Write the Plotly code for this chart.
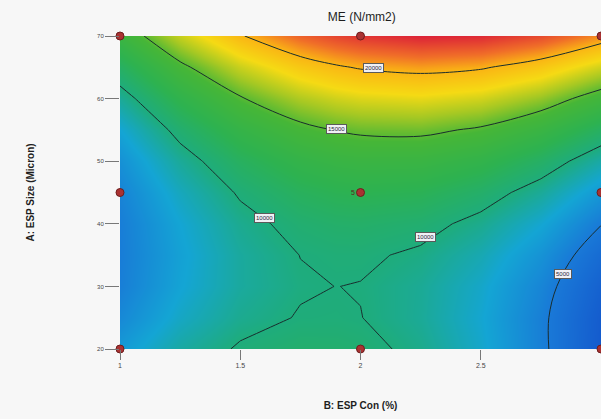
import plotly.graph_objects as go

# Factor levels (grid)
esp_con = [1.0, 1.25, 1.5, 1.75, 1.9, 2.0, 2.25, 2.5, 2.75, 3.0]     # B: ESP Con (%)
esp_size = [20, 25, 30, 35, 40, 45, 50, 55, 60, 65, 70]               # A: ESP Size (Micron)

# ME (N/mm2), rows = ESP size, cols = ESP con
me_values = [
    [6930, 8930, 10200, 10720, 10680, 10500, 9550, 7850, 5420, 2250],
    [5950, 8020, 9430, 10100, 10150, 10030, 9230, 7680, 5400, 2380],
    [5350, 7480, 9040, 9860, 10010, 9950, 9290, 7900, 5760, 2890],
    [5250, 7330, 9050, 10020, 10240, 10250, 9740, 8500, 6510, 3790],
    [5300, 7570, 9430, 10550, 10870, 10930, 10580, 9480, 7650, 5070],
    [5650, 8200, 10210, 11470, 11880, 12010, 11800, 10850, 9170, 6740],
    [6400, 9200, 11360, 12780, 13280, 13460, 13400, 12610, 11070, 8800],
    [7550, 10600, 12910, 14480, 15060, 15310, 15400, 14750, 13360, 11240],
    [9190, 12380, 14840, 16550, 17230, 17530, 17770, 17280, 16040, 14060],
    [11200, 14540, 17150, 19020, 19780, 20150, 20540, 20190, 19100, 17280],
    [13600, 17100, 19850, 21870, 22720, 23150, 23690, 23490, 22550, 20870],
]

# Design points
design_con = [1, 2, 3, 1, 2, 3, 1, 2, 3]
design_size = [20, 20, 20, 45, 45, 45, 70, 70, 70]

curved_levels = [5000, 15000, 20000]
saddle_level = 10000
x_ticks = [1, 1.5, 2, 2.5, 3]
x_ticktext = ["1", "1.5", "2", "2.5", "3"]
y_ticks = [20, 30, 40, 50, 60, 70]

colorscale = [
    [0.00, "rgb(20,90,205)"],
    [0.13, "rgb(25,120,215)"],
    [0.25, "rgb(20,165,212)"],
    [0.36, "rgb(30,172,125)"],
    [0.46, "rgb(45,178,80)"],
    [0.58, "rgb(70,182,55)"],
    [0.66, "rgb(165,200,35)"],
    [0.74, "rgb(245,218,20)"],
    [0.83, "rgb(250,180,20)"],
    [0.90, "rgb(240,110,40)"],
    [1.00, "rgb(220,35,55)"],
]
line_color = "rgb(25,45,45)"

fig = go.Figure()

# colour fill only
fig.add_trace(go.Contour(
    x=esp_con, y=esp_size, z=me_values,
    colorscale=colorscale, zmin=2200, zmax=23700,
    contours=dict(coloring="heatmap", start=30000, end=30000, size=5000),
    line=dict(width=0),
    showscale=False, hoverinfo="skip",
))

# curved contour lines (smoothed)
for lev in curved_levels:
    fig.add_trace(go.Contour(
        x=esp_con, y=esp_size, z=me_values,
        contours=dict(coloring="none", start=lev, end=lev, size=5000),
        line=dict(color=line_color, width=1, smoothing=1.0),
        showscale=False, hoverinfo="skip",
    ))

# straight saddle contour
fig.add_trace(go.Contour(
    x=esp_con, y=esp_size, z=me_values,
    contours=dict(coloring="none", start=saddle_level, end=saddle_level, size=5000),
    line=dict(color=line_color, width=1, smoothing=0),
    showscale=False, hoverinfo="skip",
))

fig.add_trace(go.Scatter(
    x=design_con, y=design_size, mode="markers",
    marker=dict(size=8, color="rgb(170,50,50)",
                line=dict(color="rgb(110,30,30)", width=1)),
    cliponaxis=False, showlegend=False, hoverinfo="skip",
))

# contour labels (boxed)
label_pos = [(2.055, 64.9, "20000"), (1.90, 55.1, "15000"),
             (1.60, 40.9, "10000"), (2.27, 37.9, "10000"), (2.84, 32.0, "5000")]
for bx, ay, txt in label_pos:
    fig.add_annotation(x=bx, y=ay, text=txt, showarrow=False,
                       font=dict(size=6, color="rgb(40,40,60)", family="Arial"),
                       bgcolor="rgb(240,240,245)", bordercolor="rgb(90,90,90)",
                       borderwidth=1, borderpad=1)

fig.add_annotation(x=2, y=45, text="5", showarrow=False, xshift=-8,
                   font=dict(size=7, color="rgb(90,40,30)", family="Arial"))

fig.update_layout(
    width=601, height=419,
    margin=dict(l=120, r=0, t=36, b=70),
    paper_bgcolor="rgb(247,247,247)", plot_bgcolor="rgb(247,247,247)",
    title=dict(text="ME (N/mm2)", x=0.602, xanchor="center", y=0.96, yanchor="middle",
               font=dict(family="Arial", size=12, color="rgb(30,30,30)")),
    showlegend=False,
)
fig.update_xaxes(range=[1, 3], tickvals=x_ticks, ticktext=x_ticktext,
                 ticks="outside", ticklen=10, tickcolor="rgb(120,120,120)",
                 tickfont=dict(size=7, color="rgb(70,70,70)", family="Arial"),
                 showgrid=False, zeroline=False, showline=False,
                 title=dict(text="<b>B: ESP Con (%)</b>", standoff=33,
                            font=dict(size=10, color="rgb(30,30,30)", family="Arial")))
fig.update_yaxes(range=[20, 70], tickvals=y_ticks,
                 ticks="outside", ticklen=14, tickcolor="rgb(120,120,120)",
                 tickfont=dict(size=6, color="rgb(70,70,70)", family="Arial"),
                 showgrid=False, zeroline=False, showline=False,
                 title=dict(text="<b>A: ESP Size (Micron)</b>", standoff=60,
                            font=dict(size=10, color="rgb(30,30,30)", family="Arial")))

fig.write_html("out.html")
